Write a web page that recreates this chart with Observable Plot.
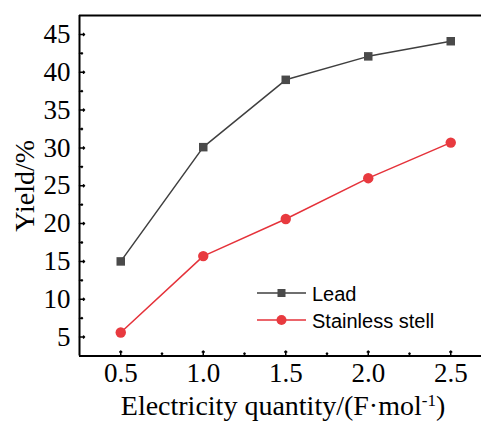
<!DOCTYPE html>
<html><head><meta charset="utf-8">
<script src="https://cdn.jsdelivr.net/npm/d3@7"></script>
<script src="https://cdn.jsdelivr.net/npm/@observablehq/plot@0.6"></script>
<style>
html,body{margin:0;padding:0;background:#fff}
#chart{position:relative;width:481px;height:421px;overflow:hidden}
</style>
</head><body><div id="chart"></div>
<script>
const quantity = [0.5, 1.0, 1.5, 2.0, 2.5];
const leadYield = [15.0, 30.1, 39.0, 42.1, 44.1];
const steelYield = [5.6, 15.7, 20.6, 26.0, 30.7];
const seriesNames = ["Lead", "Stainless stell"];
const seriesColors = ["#3f3f3f", "#e5323a"];
const markerColors = ["#4a4a4a", "#e83a3f"];
const xTicks = [0.5, 1.0, 1.5, 2.0, 2.5];
const xMinorTicks = [0.75, 1.25, 1.75, 2.25];
const yTicks = [5, 10, 15, 20, 25, 30, 35, 40, 45];
const yMinorTicks = [7.5, 12.5, 17.5, 22.5, 27.5, 32.5, 37.5, 42.5];
const xDomain = [0.25, 2.75];
const yDomain = [2.5, 47.5];
const xTitle = "Electricity quantity/(F·mol-1)";
const yTitle = "Yield/%";

const rows = [];
quantity.forEach((q, i) => {
  rows.push({q, y: leadYield[i], s: seriesNames[0]});
});
quantity.forEach((q, i) => {
  rows.push({q, y: steelYield[i], s: seriesNames[1]});
});

const serif = "'Liberation Serif', 'Times New Roman', serif";
const sans = "'Liberation Sans', Arial, sans-serif";

const chart = Plot.plot({
  width: 481,
  height: 421,
  marginLeft: 79,
  marginTop: 15,
  marginBottom: 65.5,
  marginRight: 0,
  style: {fontFamily: serif, background: "#fff", color: "#000"},
  x: {domain: xDomain, range: [79, 491.5]},
  y: {domain: yDomain, range: [355.5, 15]},
  color: {domain: seriesNames, range: seriesColors},
  symbol: {domain: seriesNames, range: ["square", "circle"]},
  marks: [
    Plot.axisY({ticks: yTicks, tickSize: 0, tickPadding: 9, fontSize: 27, fill: "#000", label: null}),
    Plot.axisX({ticks: xTicks, tickSize: 0, tickPadding: 7, fontSize: 27, fill: "#000", label: null, tickFormat: d3.format(".1f")}),
    Plot.vector(yTicks, {x: () => xDomain[0], y: d => d, rotate: 90, length: 5, anchor: "start", stroke: "#000", strokeWidth: 1.5}),
    Plot.vector(yMinorTicks, {x: () => xDomain[0], y: d => d, rotate: 90, length: 3, anchor: "start", stroke: "#000", strokeWidth: 1.5}),
    Plot.vector(xTicks, {x: d => d, y: () => yDomain[0], rotate: 0, length: 5, anchor: "start", stroke: "#000", strokeWidth: 1.5}),
    Plot.vector(xMinorTicks, {x: d => d, y: () => yDomain[0], rotate: 0, length: 3, anchor: "start", stroke: "#000", strokeWidth: 1.5}),
    Plot.ruleX([xDomain[0]], {stroke: "#000", strokeWidth: 2}),
    Plot.ruleY(yDomain, {stroke: "#000", strokeWidth: 2}),
    Plot.line(rows, {x: "q", y: "y", z: "s", stroke: "s", strokeWidth: 1.5}),
    Plot.dot(rows.filter(d => d.s === seriesNames[0]), {x: "q", y: "y", symbol: "s", r: 4.8, fill: markerColors[0], stroke: null}),
    Plot.dot(rows.filter(d => d.s === seriesNames[1]), {x: "q", y: "y", symbol: "s", r: 5.2, fill: markerColors[1], stroke: null}),
    Plot.text([yTitle], {frameAnchor: "left", dx: -46, rotate: -90, lineAnchor: "bottom", textAnchor: "middle", fontSize: 28, fill: "#000"}),
    Plot.text([xTitle], {frameAnchor: "bottom", dx: 2.5, dy: 50, lineAnchor: "middle", textAnchor: "middle", fontSize: 28, fill: "#000"})
  ]
});

document.getElementById("chart").appendChild(chart);
const svg = d3.select(chart);
svg.selectAll("text").style("font-family", serif).style("font-variant", "normal");

// superscript for mol-1
svg.selectAll("text").filter(function() { return this.textContent === xTitle; }).each(function() {
  const t = d3.select(this);
  t.text(null);
  t.append("tspan").text("Electricity quantity/(F·mol");
  t.append("tspan").attr("dy", "-9").style("font-size", "17px").text("-1");
  t.append("tspan").attr("dy", "9").text(")");
});

// legend
const legend = svg.append("g");
const ly = [293, 320];
seriesNames.forEach((name, i) => {
  const g = legend.append("g").attr("transform", `translate(0,${ly[i]})`);
  g.append("line").attr("x1", 257).attr("x2", 306).attr("y1", 0).attr("y2", 0)
    .attr("stroke", seriesColors[i]).attr("stroke-width", 1.5);
  if (i === 0) {
    g.append("rect").attr("x", 281.5 - 4).attr("y", -4).attr("width", 8).attr("height", 8).attr("fill", markerColors[i]);
  } else {
    g.append("circle").attr("cx", 281.5).attr("cy", 0).attr("r", 5).attr("fill", markerColors[i]);
  }
  g.append("text").attr("x", 312).attr("y", 7.5).attr("fill", "#000")
    .style("font-family", sans).style("font-size", "20px").style("text-anchor", "start").text(name);
});
</script>
</body></html>
